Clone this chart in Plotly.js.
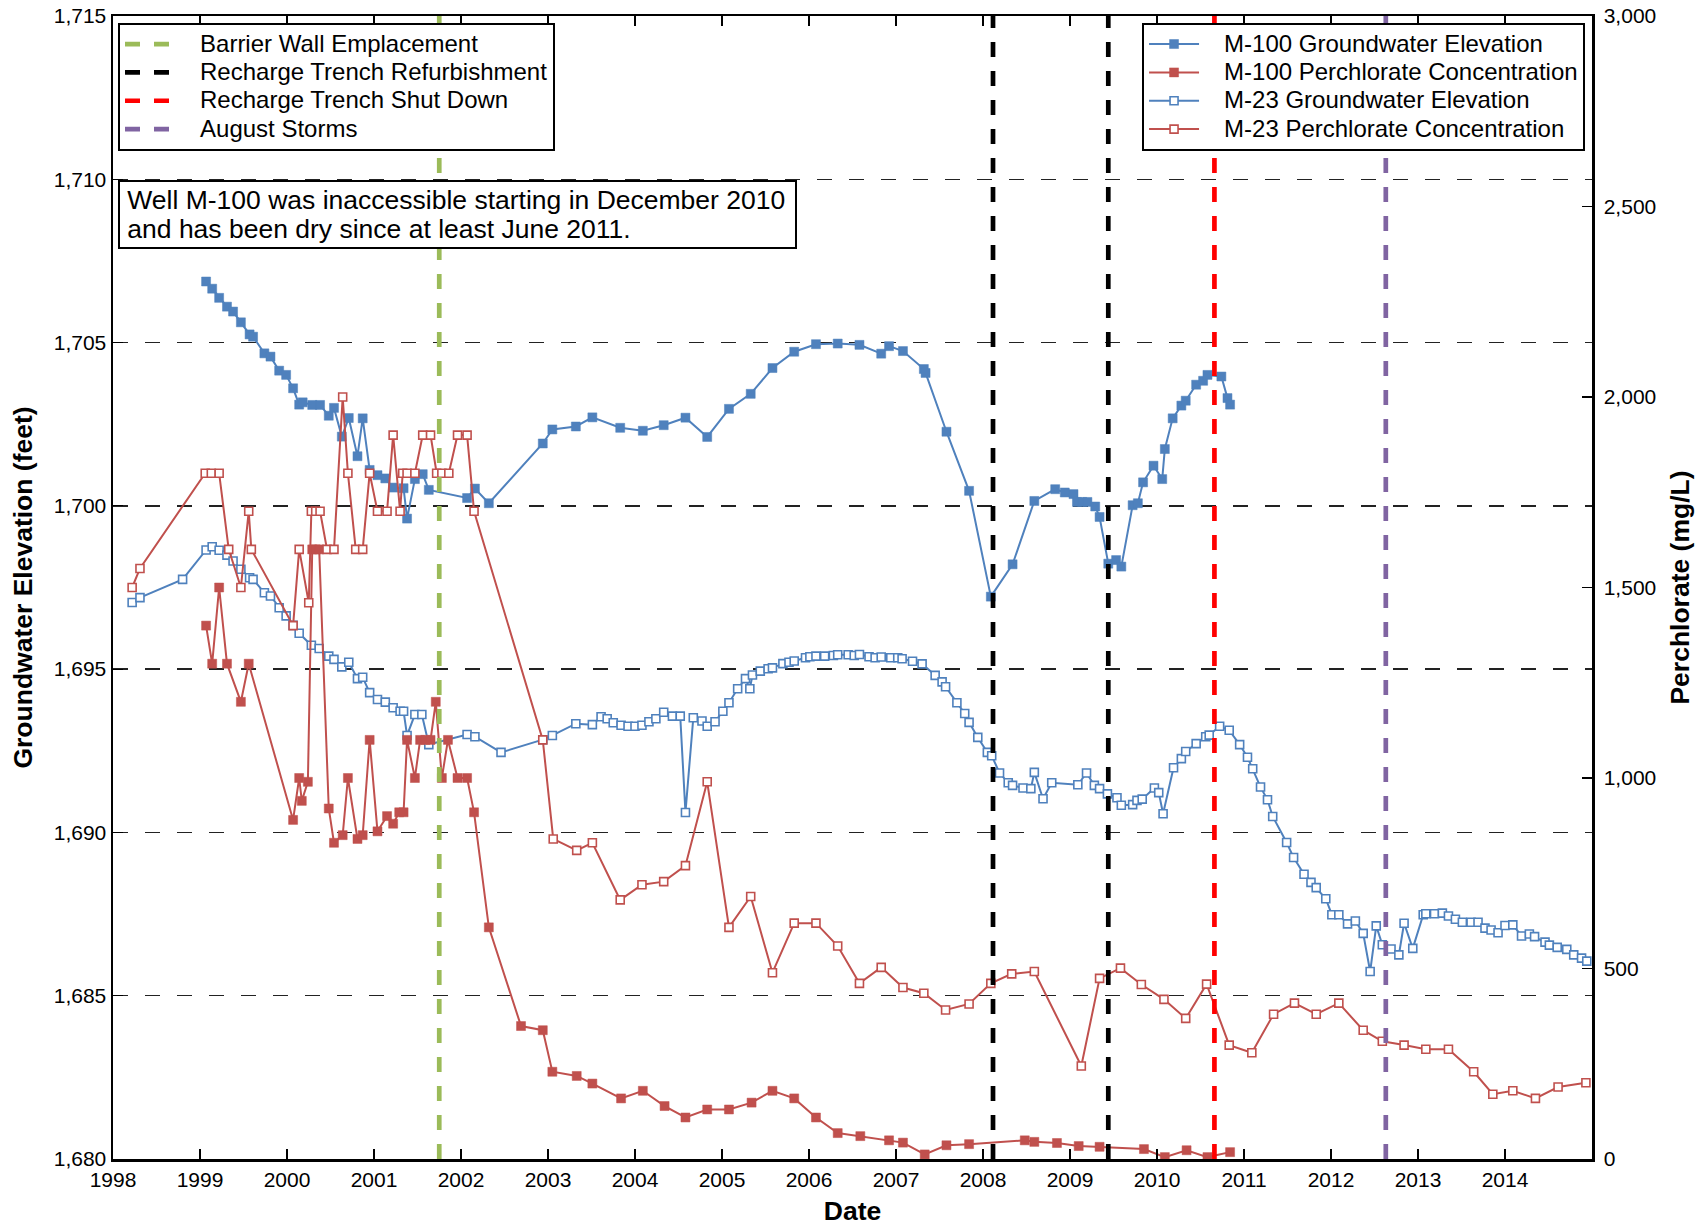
<!DOCTYPE html>
<html>
<head>
<meta charset="utf-8">
<script src="https://cdn.plot.ly/plotly-3.0.1.min.js"></script>
<style>
  html, body { margin: 0; padding: 0; background: #ffffff; }
  #chart { width: 1705px; height: 1226px; }
</style>
</head>
<body>
<div id="chart"></div>
<script>
// ---- Well M-100 groundwater elevation (feet) ----
const m100GwYear = [1999.07,1999.14,1999.22,1999.31,1999.38,1999.47,1999.57,1999.61,1999.74,1999.81,1999.91,1999.99,
  2000.07,2000.14,2000.18,2000.29,2000.38,2000.48,2000.54,2000.63,2000.71,2000.81,2000.87,2000.95,
  2001.04,2001.13,2001.22,2001.34,2001.38,2001.47,2001.56,2001.63,2002.07,2002.16,2002.32,2002.94,
  2003.05,2003.32,2003.51,2003.83,2004.09,2004.33,2004.58,2004.83,2005.08,2005.33,2005.58,2005.83,
  2006.08,2006.33,2006.58,2006.83,2006.92,2007.08,2007.32,2007.34,2007.58,2007.84,2008.09,2008.34,
  2008.59,2008.83,2008.94,2009.04,2009.08,2009.14,2009.20,2009.29,2009.34,2009.44,2009.53,2009.59,
  2009.72,2009.78,2009.84,2009.96,2010.06,2010.09,2010.18,2010.28,2010.33,2010.45,2010.53,2010.58,
  2010.74,2010.81,2010.84];
const m100GwFeet = [1706.87,1706.65,1706.37,1706.10,1705.95,1705.62,1705.25,1705.18,1704.67,1704.57,1704.14,1704.01,
  1703.60,1703.10,1703.17,1703.09,1703.09,1702.76,1703.00,1702.12,1702.69,1701.52,1702.68,1701.10,
  1700.94,1700.84,1700.56,1700.54,1699.61,1700.82,1700.97,1700.49,1700.24,1700.53,1700.08,1701.91,
  1702.34,1702.43,1702.71,1702.39,1702.30,1702.47,1702.70,1702.11,1702.97,1703.43,1704.22,1704.72,
  1704.95,1704.97,1704.93,1704.66,1704.89,1704.74,1704.19,1704.07,1702.27,1700.46,1697.22,1698.21,
  1700.15,1700.51,1700.41,1700.36,1700.12,1700.12,1700.12,1699.98,1699.66,1698.23,1698.34,1698.14,
  1700.02,1700.08,1700.72,1701.23,1700.82,1701.74,1702.68,1703.07,1703.22,1703.71,1703.83,1704.01,
  1703.96,1703.30,1703.10];

// ---- Well M-100 perchlorate concentration (mg/L) ----
const m100PcYear = [1999.07,1999.14,1999.22,1999.31,1999.47,1999.56,2000.07,2000.14,2000.17,2000.24,2000.29,2000.33,
  2000.37,2000.48,2000.54,2000.64,2000.70,2000.81,2000.87,2000.95,2001.04,2001.15,2001.22,2001.29,
  2001.34,2001.38,2001.47,2001.53,2001.59,2001.65,2001.71,2001.78,2001.85,2001.96,2002.07,2002.15,
  2002.32,2002.69,2002.94,2003.05,2003.33,2003.51,2003.84,2004.09,2004.34,2004.58,2004.83,2005.08,
  2005.34,2005.58,2005.83,2006.08,2006.33,2006.59,2006.92,2007.08,2007.33,2007.58,2007.84,2008.48,
  2008.59,2008.85,2009.10,2009.34,2009.85,2010.09,2010.34,2010.58,2010.84];
const m100PcMgL = [1400,1300,1500,1300,1200,1300,890,1000,940,990,1600,1600,
  1600,920,830,850,1000,840,850,1100,860,900,880,910,
  910,1100,1000,1100,1100,1100,1200,1000,1100,1000,1000,910,
  608,349,338,229,218,198,159,179,139,109,130,130,
  148,179,159,109,68,60,49,43,12,36,39,49,
  45,42,34,32,26,5,23,5,18];

// ---- Well M-23 groundwater elevation (feet) ----
const m23GwYear = [1998.22,1998.31,1998.80,1999.07,1999.14,1999.22,1999.31,1999.38,1999.47,1999.57,1999.61,1999.74,
  1999.81,1999.91,1999.99,2000.07,2000.14,2000.28,2000.37,2000.48,2000.54,2000.63,2000.71,2000.81,
  2000.87,2000.95,2001.04,2001.13,2001.22,2001.30,2001.34,2001.38,2001.47,2001.55,2001.63,2002.07,
  2002.16,2002.46,2002.94,2003.05,2003.32,2003.51,2003.61,2003.68,2003.75,2003.84,2003.92,2004.00,
  2004.08,2004.16,2004.24,2004.33,2004.43,2004.52,2004.58,2004.67,2004.77,2004.83,2004.92,2005.01,
  2005.08,2005.18,2005.27,2005.32,2005.35,2005.44,2005.53,2005.58,2005.70,2005.77,2005.83,2005.96,
  2006.01,2006.08,2006.18,2006.28,2006.33,2006.45,2006.52,2006.58,2006.69,2006.76,2006.83,2006.94,
  2007.02,2007.07,2007.19,2007.30,2007.45,2007.53,2007.57,2007.70,2007.79,2007.84,2007.94,2008.05,
  2008.10,2008.19,2008.29,2008.34,2008.46,2008.55,2008.59,2008.69,2008.79,2009.09,2009.19,2009.28,
  2009.34,2009.43,2009.54,2009.59,2009.72,2009.77,2009.83,2009.97,2010.02,2010.07,2010.19,2010.28,
  2010.33,2010.45,2010.56,2010.60,2010.72,2010.83,2010.95,2011.04,2011.10,2011.19,2011.27,2011.33,
  2011.49,2011.57,2011.69,2011.77,2011.83,2011.94,2012.01,2012.09,2012.19,2012.28,2012.37,2012.45,
  2012.52,2012.59,2012.69,2012.78,2012.84,2012.94,2013.06,2013.09,2013.19,2013.28,2013.35,2013.43,
  2013.51,2013.61,2013.69,2013.77,2013.84,2013.92,2014.00,2014.09,2014.19,2014.28,2014.34,2014.46,
  2014.51,2014.60,2014.71,2014.79,2014.88,2014.94];
const m23GwFeet = [1697.04,1697.19,1697.75,1698.65,1698.75,1698.64,1698.49,1698.31,1698.06,1697.80,1697.75,1697.34,
  1697.24,1696.88,1696.63,1696.34,1696.10,1695.73,1695.63,1695.40,1695.30,1695.07,1695.21,1694.71,
  1694.75,1694.28,1694.07,1693.99,1693.82,1693.71,1693.71,1692.97,1693.61,1693.61,1692.69,1693.00,
  1692.93,1692.45,1692.84,1692.97,1693.33,1693.30,1693.54,1693.48,1693.36,1693.28,1693.25,1693.25,
  1693.28,1693.39,1693.48,1693.68,1693.56,1693.56,1690.61,1693.51,1693.41,1693.25,1693.39,1693.71,
  1693.97,1694.40,1694.71,1694.40,1694.82,1694.94,1695.01,1695.04,1695.17,1695.21,1695.25,1695.35,
  1695.38,1695.40,1695.40,1695.42,1695.44,1695.44,1695.42,1695.45,1695.38,1695.35,1695.37,1695.35,
  1695.35,1695.32,1695.24,1695.16,1694.81,1694.61,1694.46,1693.97,1693.64,1693.37,1692.91,1692.45,
  1692.35,1691.82,1691.52,1691.44,1691.36,1691.34,1691.84,1691.03,1691.52,1691.46,1691.82,1691.44,
  1691.34,1691.18,1691.06,1690.83,1690.85,1690.98,1691.02,1691.36,1691.22,1690.57,1691.98,1692.26,
  1692.48,1692.72,1692.93,1692.98,1693.25,1693.13,1692.69,1692.30,1691.95,1691.39,1691.00,1690.49,
  1689.69,1689.23,1688.72,1688.47,1688.31,1687.97,1687.48,1687.48,1687.20,1687.29,1686.91,1685.74,
  1687.14,1686.56,1686.43,1686.25,1687.22,1686.45,1687.48,1687.51,1687.51,1687.53,1687.44,1687.34,
  1687.25,1687.25,1687.25,1687.07,1687.01,1686.93,1687.15,1687.17,1686.83,1686.89,1686.81,1686.64,
  1686.55,1686.48,1686.42,1686.25,1686.15,1686.06];

// ---- Well M-23 perchlorate concentration (mg/L) ----
const m23PcYear = [1998.22,1998.31,1999.06,1999.13,1999.22,1999.33,1999.47,1999.56,1999.59,2000.07,2000.14,2000.25,
  2000.28,2000.33,2000.38,2000.46,2000.54,2000.64,2000.70,2000.79,2000.87,2000.95,2001.04,2001.15,
  2001.22,2001.30,2001.33,2001.38,2001.47,2001.56,2001.65,2001.72,2001.78,2001.86,2001.96,2002.07,
  2002.15,2002.94,2003.06,2003.33,2003.51,2003.83,2004.08,2004.33,2004.58,2004.83,2005.08,2005.33,
  2005.58,2005.83,2006.08,2006.33,2006.58,2006.83,2007.08,2007.32,2007.57,2007.84,2008.09,2008.33,
  2008.59,2009.13,2009.34,2009.58,2009.82,2010.08,2010.33,2010.57,2010.83,2011.09,2011.34,2011.58,
  2011.83,2012.09,2012.37,2012.59,2012.84,2013.09,2013.35,2013.64,2013.86,2014.09,2014.35,2014.61,
  2014.93];
const m23PcMgL = [1500,1550,1800,1800,1800,1600,1500,1700,1600,1400,1600,1460,
  1700,1700,1700,1600,1600,2000,1800,1600,1600,1800,1700,1700,
  1900,1700,1800,1800,1800,1900,1900,1800,1800,1800,1900,1900,
  1700,1100,840,810,830,680,720,728,770,990,608,689,
  489,619,619,559,461,503,450,435,391,407,461,486,
  492,244,474,501,458,419,369,459,299,279,380,409,
  380,409,338,309,299,288,288,229,170,179,159,189,
  200];

// ---- Site events marked as vertical lines ----
const eventNames  = ['Barrier Wall Emplacement', 'Recharge Trench Refurbishment', 'Recharge Trench Refurbishment',
                     'Recharge Trench Shut Down', 'August Storms'];
const eventYears  = [2001.75, 2008.115, 2009.44, 2010.66, 2012.63];
const eventColors = ['#9BBB59', '#000000', '#000000', '#FF0000', '#8064A2'];

// ---- Axis ticks ----
const yearTicks = [1998,1999,2000,2001,2002,2003,2004,2005,2006,2007,2008,2009,2010,2011,2012,2013,2014];

const FONT = 'Liberation Sans, Arial, Helvetica, sans-serif';
const BLUE = '#4F81BD';
const RED = '#C0504D';

// Legend rows stay compact (row height follows legend.font.size) while the
// label itself is set a little larger, with a small lead-in gap.
function legendLabel(name) {
  return '<span style="font-size:24px">\u00a0\u00a0\u00a0' + name + '</span>';
}

function series(name, x, y, color, filled, axis) {
  return {
    type: 'scatter', mode: 'lines+markers', name: legendLabel(name), x: x, y: y, yaxis: axis,
    legend: 'legend2',
    line: { color: color, width: 2 },
    marker: filled
      ? { symbol: 'square', size: 9, color: color, line: { color: color, width: 0.5 } }
      : { symbol: 'square', size: 8, color: '#ffffff', line: { color: color, width: 1.6 } },
    hoverinfo: 'x+y'
  };
}

const traces = [
  series('M-100 Groundwater Elevation', m100GwYear, m100GwFeet, BLUE, true, 'y'),
  series('M-100 Perchlorate Concentration', m100PcYear, m100PcMgL, RED, true, 'y2'),
  series('M-23 Groundwater Elevation', m23GwYear, m23GwFeet, BLUE, false, 'y'),
  series('M-23 Perchlorate Concentration', m23PcYear, m23PcMgL, RED, false, 'y2')
];

const seen = {};
const shapes = eventYears.map(function (yr, i) {
  const first = !seen[eventNames[i]];
  seen[eventNames[i]] = true;
  return {
    type: 'line', xref: 'x', yref: 'paper', x0: yr, x1: yr, y0: 0, y1: 1,
    line: { color: eventColors[i], width: 4.7, dash: '15px,14px' },
    name: legendLabel(eventNames[i]), showlegend: first, legend: 'legend', layer: 'above'
  };
});

const tickFont = { family: FONT, size: 21, color: '#000' };
const titleFont = { family: FONT, size: 26.5, color: '#000', weight: 'bold' };

const noteLines = ['Well M-100 was inaccessible starting in December 2010',
                   'and has been dry since at least June 2011.'];

const layout = {
  width: 1705, height: 1226,
  margin: { l: 113, r: 113, t: 16, b: 67 },
  paper_bgcolor: '#ffffff', plot_bgcolor: '#ffffff',
  font: { family: FONT, color: '#000' },
  showlegend: true,
  xaxis: {
    type: 'linear', range: [1998, 2015],
    tickvals: yearTicks, ticktext: yearTicks.map(String),
    ticks: 'inside', ticklen: 10, tickwidth: 1.2, tickcolor: '#000',
    showline: true, linecolor: '#000', linewidth: 2.5, mirror: 'ticks',
    showgrid: false, zeroline: false,
    tickfont: tickFont,
    title: { text: 'Date', font: titleFont, standoff: 12 }
  },
  yaxis: {
    range: [1680, 1715], dtick: 5, tickformat: ',d',
    ticks: 'inside', ticklen: 10, tickwidth: 1.2, tickcolor: '#000',
    showline: true, linecolor: '#000', linewidth: 2.5,
    showgrid: true, gridcolor: '#222222', gridwidth: 1.5, griddash: '15px,17px',
    zeroline: false,
    tickfont: tickFont,
    title: { text: 'Groundwater Elevation (feet)', font: titleFont, standoff: 14 }
  },
  yaxis2: {
    overlaying: 'y', side: 'right',
    range: [0, 3000], dtick: 500, tickformat: ',d',
    ticks: 'inside', ticklen: 10, tickwidth: 1.2, tickcolor: '#000',
    showline: true, linecolor: '#000', linewidth: 2.5,
    showgrid: false, zeroline: false,
    ticklabelstandoff: 5,
    tickfont: tickFont,
    title: { text: 'Perchlorate (mg/L)', font: titleFont, standoff: 15 }
  },
  legend: {
    x: 0.0034, y: 0.994, xanchor: 'left', yanchor: 'top',
    bgcolor: '#ffffff', bordercolor: '#000', borderwidth: 2,
    font: { family: FONT, size: 19.5, color: '#000' },
    itemwidth: 50
  },
  legend2: {
    x: 0.9953, y: 0.994, xanchor: 'right', yanchor: 'top',
    bgcolor: '#ffffff', bordercolor: '#000', borderwidth: 2,
    font: { family: FONT, size: 19.5, color: '#000' },
    itemwidth: 50
  },
  shapes: shapes,
  annotations: [{
    xref: 'paper', yref: 'paper', x: 0.0035, y: 0.8565, xanchor: 'left', yanchor: 'top',
    text: noteLines.map(function (t) { return '<span style="font-size:26.5px">\u2009' + t + '</span>'; }).join('<br>'),
    showarrow: false, align: 'left', valign: 'middle',
    width: 671, height: 61,
    font: { family: FONT, size: 21.8, color: '#000' },
    bgcolor: '#ffffff', bordercolor: '#000', borderwidth: 2, borderpad: 2
  }]
};

Plotly.newPlot('chart', traces, layout, { displayModeBar: false, staticPlot: true });
</script>
</body>
</html>
